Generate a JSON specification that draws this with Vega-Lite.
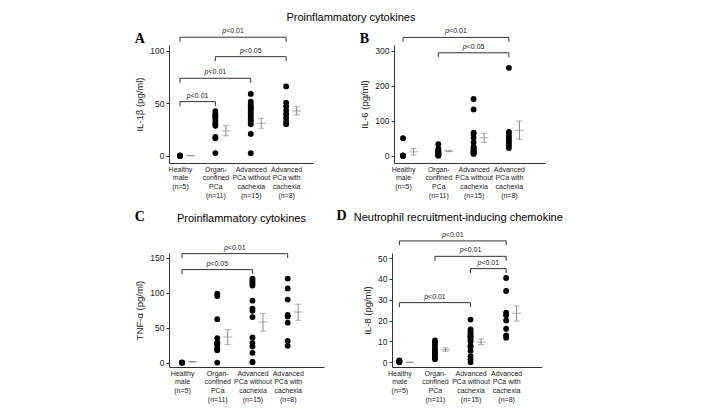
{
  "$schema": "https://vega.github.io/schema/vega-lite/v6.json",
  "background": "white",
  "padding": {"left": 134, "top": 12, "right": 5, "bottom": 5},
  "config": {
    "view": {"stroke": null},
    "font": "Liberation Sans",
    "axis": {"grid": false, "domainColor": "#333", "tickColor": "#333", "labelColor": "#222", "titleColor": "#222", "labelFont": "Liberation Sans", "titleFont": "Liberation Sans", "domainWidth": 1},
    "axisX": {"ticks": false, "labelFontSize": 7, "labelLineHeight": 8.7, "labelPadding": 2, "labelAngle": 0, "labelBaseline": "top", "labelOverlap": false, "title": null},
    "axisY": {"tickSize": 3, "labelFontSize": 8.5, "titleFontSize": 9.5, "titleFontWeight": "normal", "labelPadding": 2, "titlePadding": 5, "labelOverlap": false, "labelBaseline": "middle", "tickCount": 12},
    "title": {"font": "Liberation Sans", "fontWeight": "normal", "fontSize": 11, "color": "#000"},
    "concat": {"spacing": 12}
  },
  "datasets": {
    "pts": [
      {"panel": "A", "group": "Healthy male (n=5)", "value": 0},
      {"panel": "A", "group": "Healthy male (n=5)", "value": 0},
      {"panel": "A", "group": "Healthy male (n=5)", "value": 0},
      {"panel": "A", "group": "Healthy male (n=5)", "value": 0},
      {"panel": "A", "group": "Healthy male (n=5)", "value": 0},
      {"panel": "A", "group": "Organ-confined PCa (n=11)", "value": 42.5},
      {"panel": "A", "group": "Organ-confined PCa (n=11)", "value": 40},
      {"panel": "A", "group": "Organ-confined PCa (n=11)", "value": 38},
      {"panel": "A", "group": "Organ-confined PCa (n=11)", "value": 37},
      {"panel": "A", "group": "Organ-confined PCa (n=11)", "value": 35.5},
      {"panel": "A", "group": "Organ-confined PCa (n=11)", "value": 33},
      {"panel": "A", "group": "Organ-confined PCa (n=11)", "value": 30.5},
      {"panel": "A", "group": "Organ-confined PCa (n=11)", "value": 28.5},
      {"panel": "A", "group": "Organ-confined PCa (n=11)", "value": 18},
      {"panel": "A", "group": "Organ-confined PCa (n=11)", "value": 16.5},
      {"panel": "A", "group": "Organ-confined PCa (n=11)", "value": 2.5},
      {"panel": "A", "group": "Advanced PCa without cachexia (n=15)", "value": 58.8},
      {"panel": "A", "group": "Advanced PCa without cachexia (n=15)", "value": 51.5},
      {"panel": "A", "group": "Advanced PCa without cachexia (n=15)", "value": 49},
      {"panel": "A", "group": "Advanced PCa without cachexia (n=15)", "value": 46.7},
      {"panel": "A", "group": "Advanced PCa without cachexia (n=15)", "value": 45.5},
      {"panel": "A", "group": "Advanced PCa without cachexia (n=15)", "value": 44.5},
      {"panel": "A", "group": "Advanced PCa without cachexia (n=15)", "value": 42.6},
      {"panel": "A", "group": "Advanced PCa without cachexia (n=15)", "value": 40.3},
      {"panel": "A", "group": "Advanced PCa without cachexia (n=15)", "value": 38.1},
      {"panel": "A", "group": "Advanced PCa without cachexia (n=15)", "value": 35.6},
      {"panel": "A", "group": "Advanced PCa without cachexia (n=15)", "value": 34},
      {"panel": "A", "group": "Advanced PCa without cachexia (n=15)", "value": 32.4},
      {"panel": "A", "group": "Advanced PCa without cachexia (n=15)", "value": 29.9},
      {"panel": "A", "group": "Advanced PCa without cachexia (n=15)", "value": 20.7},
      {"panel": "A", "group": "Advanced PCa without cachexia (n=15)", "value": 2.3},
      {"panel": "A", "group": "Advanced PCa with cachexia (n=8)", "value": 66},
      {"panel": "A", "group": "Advanced PCa with cachexia (n=8)", "value": 50.5},
      {"panel": "A", "group": "Advanced PCa with cachexia (n=8)", "value": 47},
      {"panel": "A", "group": "Advanced PCa with cachexia (n=8)", "value": 43},
      {"panel": "A", "group": "Advanced PCa with cachexia (n=8)", "value": 39.5},
      {"panel": "A", "group": "Advanced PCa with cachexia (n=8)", "value": 36},
      {"panel": "A", "group": "Advanced PCa with cachexia (n=8)", "value": 32.5},
      {"panel": "A", "group": "Advanced PCa with cachexia (n=8)", "value": 30},
      {"panel": "B", "group": "Healthy male (n=5)", "value": 0},
      {"panel": "B", "group": "Healthy male (n=5)", "value": 0},
      {"panel": "B", "group": "Healthy male (n=5)", "value": 0},
      {"panel": "B", "group": "Healthy male (n=5)", "value": 0},
      {"panel": "B", "group": "Healthy male (n=5)", "value": 50},
      {"panel": "B", "group": "Organ-confined PCa (n=11)", "value": 33},
      {"panel": "B", "group": "Organ-confined PCa (n=11)", "value": 20},
      {"panel": "B", "group": "Organ-confined PCa (n=11)", "value": 15},
      {"panel": "B", "group": "Organ-confined PCa (n=11)", "value": 12},
      {"panel": "B", "group": "Organ-confined PCa (n=11)", "value": 10},
      {"panel": "B", "group": "Organ-confined PCa (n=11)", "value": 8},
      {"panel": "B", "group": "Organ-confined PCa (n=11)", "value": 6},
      {"panel": "B", "group": "Organ-confined PCa (n=11)", "value": 5},
      {"panel": "B", "group": "Organ-confined PCa (n=11)", "value": 3},
      {"panel": "B", "group": "Organ-confined PCa (n=11)", "value": 1},
      {"panel": "B", "group": "Organ-confined PCa (n=11)", "value": 0},
      {"panel": "B", "group": "Advanced PCa without cachexia (n=15)", "value": 162},
      {"panel": "B", "group": "Advanced PCa without cachexia (n=15)", "value": 132},
      {"panel": "B", "group": "Advanced PCa without cachexia (n=15)", "value": 66},
      {"panel": "B", "group": "Advanced PCa without cachexia (n=15)", "value": 62},
      {"panel": "B", "group": "Advanced PCa without cachexia (n=15)", "value": 51},
      {"panel": "B", "group": "Advanced PCa without cachexia (n=15)", "value": 38},
      {"panel": "B", "group": "Advanced PCa without cachexia (n=15)", "value": 26},
      {"panel": "B", "group": "Advanced PCa without cachexia (n=15)", "value": 22},
      {"panel": "B", "group": "Advanced PCa without cachexia (n=15)", "value": 19},
      {"panel": "B", "group": "Advanced PCa without cachexia (n=15)", "value": 16},
      {"panel": "B", "group": "Advanced PCa without cachexia (n=15)", "value": 13},
      {"panel": "B", "group": "Advanced PCa without cachexia (n=15)", "value": 11},
      {"panel": "B", "group": "Advanced PCa without cachexia (n=15)", "value": 9},
      {"panel": "B", "group": "Advanced PCa without cachexia (n=15)", "value": 7},
      {"panel": "B", "group": "Advanced PCa without cachexia (n=15)", "value": 5},
      {"panel": "B", "group": "Advanced PCa with cachexia (n=8)", "value": 251},
      {"panel": "B", "group": "Advanced PCa with cachexia (n=8)", "value": 68},
      {"panel": "B", "group": "Advanced PCa with cachexia (n=8)", "value": 60},
      {"panel": "B", "group": "Advanced PCa with cachexia (n=8)", "value": 52},
      {"panel": "B", "group": "Advanced PCa with cachexia (n=8)", "value": 45},
      {"panel": "B", "group": "Advanced PCa with cachexia (n=8)", "value": 38},
      {"panel": "B", "group": "Advanced PCa with cachexia (n=8)", "value": 30},
      {"panel": "B", "group": "Advanced PCa with cachexia (n=8)", "value": 22},
      {"panel": "C", "group": "Healthy male (n=5)", "value": 0},
      {"panel": "C", "group": "Healthy male (n=5)", "value": 0},
      {"panel": "C", "group": "Healthy male (n=5)", "value": 0},
      {"panel": "C", "group": "Healthy male (n=5)", "value": 0},
      {"panel": "C", "group": "Healthy male (n=5)", "value": 0},
      {"panel": "C", "group": "Organ-confined PCa (n=11)", "value": 98.5},
      {"panel": "C", "group": "Organ-confined PCa (n=11)", "value": 95},
      {"panel": "C", "group": "Organ-confined PCa (n=11)", "value": 62},
      {"panel": "C", "group": "Organ-confined PCa (n=11)", "value": 35},
      {"panel": "C", "group": "Organ-confined PCa (n=11)", "value": 29},
      {"panel": "C", "group": "Organ-confined PCa (n=11)", "value": 27},
      {"panel": "C", "group": "Organ-confined PCa (n=11)", "value": 25},
      {"panel": "C", "group": "Organ-confined PCa (n=11)", "value": 21},
      {"panel": "C", "group": "Organ-confined PCa (n=11)", "value": 19},
      {"panel": "C", "group": "Organ-confined PCa (n=11)", "value": 17.5},
      {"panel": "C", "group": "Organ-confined PCa (n=11)", "value": 0},
      {"panel": "C", "group": "Advanced PCa without cachexia (n=15)", "value": 120},
      {"panel": "C", "group": "Advanced PCa without cachexia (n=15)", "value": 117.5},
      {"panel": "C", "group": "Advanced PCa without cachexia (n=15)", "value": 115},
      {"panel": "C", "group": "Advanced PCa without cachexia (n=15)", "value": 113},
      {"panel": "C", "group": "Advanced PCa without cachexia (n=15)", "value": 110},
      {"panel": "C", "group": "Advanced PCa without cachexia (n=15)", "value": 88.5},
      {"panel": "C", "group": "Advanced PCa without cachexia (n=15)", "value": 77},
      {"panel": "C", "group": "Advanced PCa without cachexia (n=15)", "value": 74},
      {"panel": "C", "group": "Advanced PCa without cachexia (n=15)", "value": 65},
      {"panel": "C", "group": "Advanced PCa without cachexia (n=15)", "value": 36},
      {"panel": "C", "group": "Advanced PCa without cachexia (n=15)", "value": 28},
      {"panel": "C", "group": "Advanced PCa without cachexia (n=15)", "value": 23},
      {"panel": "C", "group": "Advanced PCa without cachexia (n=15)", "value": 14},
      {"panel": "C", "group": "Advanced PCa without cachexia (n=15)", "value": 1},
      {"panel": "C", "group": "Advanced PCa without cachexia (n=15)", "value": 0.5},
      {"panel": "C", "group": "Advanced PCa with cachexia (n=8)", "value": 120},
      {"panel": "C", "group": "Advanced PCa with cachexia (n=8)", "value": 106},
      {"panel": "C", "group": "Advanced PCa with cachexia (n=8)", "value": 90},
      {"panel": "C", "group": "Advanced PCa with cachexia (n=8)", "value": 68},
      {"panel": "C", "group": "Advanced PCa with cachexia (n=8)", "value": 66},
      {"panel": "C", "group": "Advanced PCa with cachexia (n=8)", "value": 57},
      {"panel": "C", "group": "Advanced PCa with cachexia (n=8)", "value": 31},
      {"panel": "C", "group": "Advanced PCa with cachexia (n=8)", "value": 24},
      {"panel": "D", "group": "Healthy male (n=5)", "value": 0},
      {"panel": "D", "group": "Healthy male (n=5)", "value": 0.3},
      {"panel": "D", "group": "Healthy male (n=5)", "value": 0.6},
      {"panel": "D", "group": "Healthy male (n=5)", "value": 0.9},
      {"panel": "D", "group": "Healthy male (n=5)", "value": 0.2},
      {"panel": "D", "group": "Organ-confined PCa (n=11)", "value": 10.5},
      {"panel": "D", "group": "Organ-confined PCa (n=11)", "value": 9.5},
      {"panel": "D", "group": "Organ-confined PCa (n=11)", "value": 8.5},
      {"panel": "D", "group": "Organ-confined PCa (n=11)", "value": 7},
      {"panel": "D", "group": "Organ-confined PCa (n=11)", "value": 6},
      {"panel": "D", "group": "Organ-confined PCa (n=11)", "value": 5},
      {"panel": "D", "group": "Organ-confined PCa (n=11)", "value": 4.5},
      {"panel": "D", "group": "Organ-confined PCa (n=11)", "value": 4},
      {"panel": "D", "group": "Organ-confined PCa (n=11)", "value": 3},
      {"panel": "D", "group": "Organ-confined PCa (n=11)", "value": 2},
      {"panel": "D", "group": "Organ-confined PCa (n=11)", "value": 1.5},
      {"panel": "D", "group": "Advanced PCa without cachexia (n=15)", "value": 20.5},
      {"panel": "D", "group": "Advanced PCa without cachexia (n=15)", "value": 15.8},
      {"panel": "D", "group": "Advanced PCa without cachexia (n=15)", "value": 14.8},
      {"panel": "D", "group": "Advanced PCa without cachexia (n=15)", "value": 14},
      {"panel": "D", "group": "Advanced PCa without cachexia (n=15)", "value": 13},
      {"panel": "D", "group": "Advanced PCa without cachexia (n=15)", "value": 12.5},
      {"panel": "D", "group": "Advanced PCa without cachexia (n=15)", "value": 12},
      {"panel": "D", "group": "Advanced PCa without cachexia (n=15)", "value": 11},
      {"panel": "D", "group": "Advanced PCa without cachexia (n=15)", "value": 10},
      {"panel": "D", "group": "Advanced PCa without cachexia (n=15)", "value": 8},
      {"panel": "D", "group": "Advanced PCa without cachexia (n=15)", "value": 7.5},
      {"panel": "D", "group": "Advanced PCa without cachexia (n=15)", "value": 5.5},
      {"panel": "D", "group": "Advanced PCa without cachexia (n=15)", "value": 3},
      {"panel": "D", "group": "Advanced PCa without cachexia (n=15)", "value": 1.5},
      {"panel": "D", "group": "Advanced PCa without cachexia (n=15)", "value": 0},
      {"panel": "D", "group": "Advanced PCa with cachexia (n=8)", "value": 40.4},
      {"panel": "D", "group": "Advanced PCa with cachexia (n=8)", "value": 34.2},
      {"panel": "D", "group": "Advanced PCa with cachexia (n=8)", "value": 23.8},
      {"panel": "D", "group": "Advanced PCa with cachexia (n=8)", "value": 22.5},
      {"panel": "D", "group": "Advanced PCa with cachexia (n=8)", "value": 20.1},
      {"panel": "D", "group": "Advanced PCa with cachexia (n=8)", "value": 16.1},
      {"panel": "D", "group": "Advanced PCa with cachexia (n=8)", "value": 12.9},
      {"panel": "D", "group": "Advanced PCa with cachexia (n=8)", "value": 11.8}
    ],
    "sem": [
      {"panel": "A", "group": "Healthy male (n=5)", "mean": 0, "lo": 0, "hi": 0},
      {"panel": "A", "group": "Organ-confined PCa (n=11)", "mean": 23.5, "lo": 19, "hi": 28.6},
      {"panel": "A", "group": "Advanced PCa without cachexia (n=15)", "mean": 30.8, "lo": 26.1, "hi": 35.6},
      {"panel": "A", "group": "Advanced PCa with cachexia (n=8)", "mean": 42.6, "lo": 38.8, "hi": 46.7},
      {"panel": "B", "group": "Healthy male (n=5)", "mean": 11, "lo": 2, "hi": 20},
      {"panel": "B", "group": "Organ-confined PCa (n=11)", "mean": 13.3, "lo": 11.4, "hi": 15.2},
      {"panel": "B", "group": "Advanced PCa without cachexia (n=15)", "mean": 51.5, "lo": 38, "hi": 64},
      {"panel": "B", "group": "Advanced PCa with cachexia (n=8)", "mean": 73, "lo": 47, "hi": 99},
      {"panel": "C", "group": "Healthy male (n=5)", "mean": 1, "lo": 1, "hi": 1},
      {"panel": "C", "group": "Organ-confined PCa (n=11)", "mean": 36.6, "lo": 25.7, "hi": 47},
      {"panel": "C", "group": "Advanced PCa without cachexia (n=15)", "mean": 58, "lo": 45, "hi": 70},
      {"panel": "C", "group": "Advanced PCa with cachexia (n=8)", "mean": 72.4, "lo": 60.4, "hi": 83.3},
      {"panel": "D", "group": "Healthy male (n=5)", "mean": 0, "lo": 0, "hi": 0},
      {"panel": "D", "group": "Organ-confined PCa (n=11)", "mean": 6.1, "lo": 5.3, "hi": 7},
      {"panel": "D", "group": "Advanced PCa without cachexia (n=15)", "mean": 9.7, "lo": 8.5, "hi": 11.2},
      {"panel": "D", "group": "Advanced PCa with cachexia (n=8)", "mean": 23.5, "lo": 19.8, "hi": 27}
    ],
    "brk": [
      {"panel": "A", "g1": "Healthy male (n=5)", "g2": "Advanced PCa with cachexia (n=8)", "level": 112.8, "label": "<0.01"},
      {"panel": "A", "g1": "Organ-confined PCa (n=11)", "g2": "Advanced PCa with cachexia (n=8)", "level": 94.3, "label": "<0.05"},
      {"panel": "A", "g1": "Healthy male (n=5)", "g2": "Advanced PCa without cachexia (n=15)", "level": 73.7, "label": "<0.01"},
      {"panel": "A", "g1": "Healthy male (n=5)", "g2": "Organ-confined PCa (n=11)", "level": 51.5, "label": "<0.01"},
      {"panel": "B", "g1": "Healthy male (n=5)", "g2": "Advanced PCa with cachexia (n=8)", "level": 338, "label": "<0.01"},
      {"panel": "B", "g1": "Organ-confined PCa (n=11)", "g2": "Advanced PCa with cachexia (n=8)", "level": 294, "label": "<0.05"},
      {"panel": "C", "g1": "Healthy male (n=5)", "g2": "Advanced PCa with cachexia (n=8)", "level": 155.7, "label": "<0.01"},
      {"panel": "C", "g1": "Healthy male (n=5)", "g2": "Advanced PCa without cachexia (n=15)", "level": 132.9, "label": "<0.05"},
      {"panel": "D", "g1": "Healthy male (n=5)", "g2": "Advanced PCa with cachexia (n=8)", "level": 58.2, "label": "<0.01"},
      {"panel": "D", "g1": "Organ-confined PCa (n=11)", "g2": "Advanced PCa with cachexia (n=8)", "level": 50.8, "label": "<0.01"},
      {"panel": "D", "g1": "Advanced PCa without cachexia (n=15)", "g2": "Advanced PCa with cachexia (n=8)", "level": 44.9, "label": "<0.01"},
      {"panel": "D", "g1": "Healthy male (n=5)", "g2": "Advanced PCa without cachexia (n=15)", "level": 28.6, "label": "<0.01"}
    ]
  },
  "vconcat": [
    {
      "title": {"text": "Proinflammatory cytokines", "anchor": "middle", "frame": "bounds", "offset": 4, "dx": 11},
      "spacing": 46,
      "hconcat": [
        {
          "title": {"text": "A", "anchor": "start", "frame": "bounds", "font": "Liberation Serif", "fontSize": 14, "fontWeight": "bold", "offset": -19},
          "width": 144, "height": 118,
          "layer": [
            {"data": {"name": "pts"}, "transform": [{"filter": "datum.panel === 'A'"}],
             "mark": {"type": "circle", "size": 34, "color": "#000", "opacity": 1},
             "encoding": {
               "x": {"field": "group", "type": "nominal", "scale": {"type": "point", "domain": ["Healthy male (n=5)", "Organ-confined PCa (n=11)", "Advanced PCa without cachexia (n=15)", "Advanced PCa with cachexia (n=8)"], "padding": 0.534, "align": 0.29},
                     "axis": {"title": null, "labelExpr": "datum.value === 'Healthy male (n=5)' ? ['Healthy','male','(n=5)'] : datum.value === 'Organ-confined PCa (n=11)' ? ['Organ-','confined','PCa','(n=11)'] : datum.value === 'Advanced PCa without cachexia (n=15)' ? ['Advanced','PCa without','cachexia','(n=15)'] : ['Advanced','PCa with','cachexia','(n=8)']"}},
               "y": {"field": "value", "type": "quantitative", "scale": {"domain": [-6.95, 105.4], "nice": false, "zero": false}, "axis": {"values": [0, 50, 100], "tickCount": 12, "title": "IL-1β (pg/ml)"}}
             }},
            {"data": {"name": "sem"}, "transform": [{"filter": "datum.panel === 'A'"}],
             "mark": {"type": "rule", "color": "#8a8a8a", "strokeWidth": 1, "xOffset": 10.5},
             "encoding": {"x": {"field": "group", "type": "nominal"}, "y": {"field": "lo", "type": "quantitative"}, "y2": {"field": "hi"}}},
            {"data": {"name": "sem"}, "transform": [{"filter": "datum.panel === 'A'"}],
             "mark": {"type": "tick", "color": "#8a8a8a", "size": 6, "thickness": 1, "xOffset": 10.5},
             "encoding": {"x": {"field": "group", "type": "nominal"}, "y": {"field": "lo", "type": "quantitative"}}},
            {"data": {"name": "sem"}, "transform": [{"filter": "datum.panel === 'A'"}],
             "mark": {"type": "tick", "color": "#8a8a8a", "size": 6, "thickness": 1, "xOffset": 10.5},
             "encoding": {"x": {"field": "group", "type": "nominal"}, "y": {"field": "hi", "type": "quantitative"}}},
            {"data": {"name": "sem"}, "transform": [{"filter": "datum.panel === 'A'"}],
             "mark": {"type": "tick", "color": "#8a8a8a", "size": 9, "thickness": 1, "xOffset": 10.5},
             "encoding": {"x": {"field": "group", "type": "nominal"}, "y": {"field": "mean", "type": "quantitative"}}},
            {"data": {"name": "brk"}, "transform": [{"filter": "datum.panel === 'A'"}],
             "mark": {"type": "rule", "color": "#333", "strokeWidth": 1},
             "encoding": {"x": {"field": "g1", "type": "nominal"}, "x2": {"field": "g2"}, "y": {"field": "level", "type": "quantitative"}}},
            {"data": {"name": "brk"}, "transform": [{"filter": "datum.panel === 'A'"}],
             "mark": {"type": "rule", "color": "#333", "strokeWidth": 1, "y2Offset": 4.5},
             "encoding": {"x": {"field": "g1", "type": "nominal"}, "y": {"field": "level", "type": "quantitative"}, "y2": {"field": "level"}}},
            {"data": {"name": "brk"}, "transform": [{"filter": "datum.panel === 'A'"}],
             "mark": {"type": "rule", "color": "#333", "strokeWidth": 1, "y2Offset": 4.5},
             "encoding": {"x": {"field": "g2", "type": "nominal"}, "y": {"field": "level", "type": "quantitative"}, "y2": {"field": "level"}}},
            {"data": {"name": "brk"}, "transform": [{"filter": "datum.panel === 'A' && indexof(['Healthy male (n=5)','Organ-confined PCa (n=11)','Advanced PCa without cachexia (n=15)','Advanced PCa with cachexia (n=8)'], datum.g2) - indexof(['Healthy male (n=5)','Organ-confined PCa (n=11)','Advanced PCa without cachexia (n=15)','Advanced PCa with cachexia (n=8)'], datum.g1) === 1"}],
             "mark": {"type": "text", "text": "p", "fontStyle": "italic", "fontSize": 7, "align": "right", "baseline": "middle", "dx": 10.8, "dy": -6, "color": "#222"},
             "encoding": {"x": {"field": "g1", "type": "nominal"}, "y": {"field": "level", "type": "quantitative"}}},
            {"data": {"name": "brk"}, "transform": [{"filter": "datum.panel === 'A' && indexof(['Healthy male (n=5)','Organ-confined PCa (n=11)','Advanced PCa without cachexia (n=15)','Advanced PCa with cachexia (n=8)'], datum.g2) - indexof(['Healthy male (n=5)','Organ-confined PCa (n=11)','Advanced PCa without cachexia (n=15)','Advanced PCa with cachexia (n=8)'], datum.g1) === 1"}],
             "mark": {"type": "text", "fontSize": 7, "align": "left", "baseline": "middle", "dx": 10.8, "dy": -6, "color": "#222"},
             "encoding": {"x": {"field": "g1", "type": "nominal"}, "y": {"field": "level", "type": "quantitative"}, "text": {"field": "label"}}},
            {"data": {"name": "brk"}, "transform": [{"filter": "datum.panel === 'A' && indexof(['Healthy male (n=5)','Organ-confined PCa (n=11)','Advanced PCa without cachexia (n=15)','Advanced PCa with cachexia (n=8)'], datum.g2) - indexof(['Healthy male (n=5)','Organ-confined PCa (n=11)','Advanced PCa without cachexia (n=15)','Advanced PCa with cachexia (n=8)'], datum.g1) === 2"}],
             "mark": {"type": "text", "text": "p", "fontStyle": "italic", "fontSize": 7, "align": "right", "baseline": "middle", "dx": 28.5, "dy": -6, "color": "#222"},
             "encoding": {"x": {"field": "g1", "type": "nominal"}, "y": {"field": "level", "type": "quantitative"}}},
            {"data": {"name": "brk"}, "transform": [{"filter": "datum.panel === 'A' && indexof(['Healthy male (n=5)','Organ-confined PCa (n=11)','Advanced PCa without cachexia (n=15)','Advanced PCa with cachexia (n=8)'], datum.g2) - indexof(['Healthy male (n=5)','Organ-confined PCa (n=11)','Advanced PCa without cachexia (n=15)','Advanced PCa with cachexia (n=8)'], datum.g1) === 2"}],
             "mark": {"type": "text", "fontSize": 7, "align": "left", "baseline": "middle", "dx": 28.5, "dy": -6, "color": "#222"},
             "encoding": {"x": {"field": "g1", "type": "nominal"}, "y": {"field": "level", "type": "quantitative"}, "text": {"field": "label"}}},
            {"data": {"name": "brk"}, "transform": [{"filter": "datum.panel === 'A' && indexof(['Healthy male (n=5)','Organ-confined PCa (n=11)','Advanced PCa without cachexia (n=15)','Advanced PCa with cachexia (n=8)'], datum.g2) - indexof(['Healthy male (n=5)','Organ-confined PCa (n=11)','Advanced PCa without cachexia (n=15)','Advanced PCa with cachexia (n=8)'], datum.g1) === 3"}],
             "mark": {"type": "text", "text": "p", "fontStyle": "italic", "fontSize": 7, "align": "right", "baseline": "middle", "dx": 46.2, "dy": -6, "color": "#222"},
             "encoding": {"x": {"field": "g1", "type": "nominal"}, "y": {"field": "level", "type": "quantitative"}}},
            {"data": {"name": "brk"}, "transform": [{"filter": "datum.panel === 'A' && indexof(['Healthy male (n=5)','Organ-confined PCa (n=11)','Advanced PCa without cachexia (n=15)','Advanced PCa with cachexia (n=8)'], datum.g2) - indexof(['Healthy male (n=5)','Organ-confined PCa (n=11)','Advanced PCa without cachexia (n=15)','Advanced PCa with cachexia (n=8)'], datum.g1) === 3"}],
             "mark": {"type": "text", "fontSize": 7, "align": "left", "baseline": "middle", "dx": 46.2, "dy": -6, "color": "#222"},
             "encoding": {"x": {"field": "g1", "type": "nominal"}, "y": {"field": "level", "type": "quantitative"}, "text": {"field": "label"}}}
          ]
        },
        {
          "title": {"text": "B", "anchor": "start", "frame": "bounds", "font": "Liberation Serif", "fontSize": 14, "fontWeight": "bold", "offset": -19},
          "width": 151, "height": 118,
          "layer": [
            {"data": {"name": "pts"}, "transform": [{"filter": "datum.panel === 'B'"}],
             "mark": {"type": "circle", "size": 34, "color": "#000", "opacity": 1},
             "encoding": {
               "x": {"field": "group", "type": "nominal", "scale": {"type": "point", "domain": ["Healthy male (n=5)", "Organ-confined PCa (n=11)", "Advanced PCa without cachexia (n=15)", "Advanced PCa with cachexia (n=8)"], "padding": 0.639, "align": 0.2},
                     "axis": {"title": null, "labelExpr": "datum.value === 'Healthy male (n=5)' ? ['Healthy','male','(n=5)'] : datum.value === 'Organ-confined PCa (n=11)' ? ['Organ-','confined','PCa','(n=11)'] : datum.value === 'Advanced PCa without cachexia (n=15)' ? ['Advanced','PCa without','cachexia','(n=15)'] : ['Advanced','PCa with','cachexia','(n=8)']"}},
               "y": {"field": "value", "type": "quantitative", "scale": {"domain": [-20.9, 316.3], "nice": false, "zero": false}, "axis": {"values": [0, 100, 200, 300], "tickCount": 12, "title": "IL-6 (pg/ml)"}}
             }},
            {"data": {"name": "sem"}, "transform": [{"filter": "datum.panel === 'B'"}],
             "mark": {"type": "rule", "color": "#8a8a8a", "strokeWidth": 1, "xOffset": 10.5},
             "encoding": {"x": {"field": "group", "type": "nominal"}, "y": {"field": "lo", "type": "quantitative"}, "y2": {"field": "hi"}}},
            {"data": {"name": "sem"}, "transform": [{"filter": "datum.panel === 'B'"}],
             "mark": {"type": "tick", "color": "#8a8a8a", "size": 6, "thickness": 1, "xOffset": 10.5},
             "encoding": {"x": {"field": "group", "type": "nominal"}, "y": {"field": "lo", "type": "quantitative"}}},
            {"data": {"name": "sem"}, "transform": [{"filter": "datum.panel === 'B'"}],
             "mark": {"type": "tick", "color": "#8a8a8a", "size": 6, "thickness": 1, "xOffset": 10.5},
             "encoding": {"x": {"field": "group", "type": "nominal"}, "y": {"field": "hi", "type": "quantitative"}}},
            {"data": {"name": "sem"}, "transform": [{"filter": "datum.panel === 'B'"}],
             "mark": {"type": "tick", "color": "#8a8a8a", "size": 9, "thickness": 1, "xOffset": 10.5},
             "encoding": {"x": {"field": "group", "type": "nominal"}, "y": {"field": "mean", "type": "quantitative"}}},
            {"data": {"name": "brk"}, "transform": [{"filter": "datum.panel === 'B'"}],
             "mark": {"type": "rule", "color": "#333", "strokeWidth": 1},
             "encoding": {"x": {"field": "g1", "type": "nominal"}, "x2": {"field": "g2"}, "y": {"field": "level", "type": "quantitative"}}},
            {"data": {"name": "brk"}, "transform": [{"filter": "datum.panel === 'B'"}],
             "mark": {"type": "rule", "color": "#333", "strokeWidth": 1, "y2Offset": 4.5},
             "encoding": {"x": {"field": "g1", "type": "nominal"}, "y": {"field": "level", "type": "quantitative"}, "y2": {"field": "level"}}},
            {"data": {"name": "brk"}, "transform": [{"filter": "datum.panel === 'B'"}],
             "mark": {"type": "rule", "color": "#333", "strokeWidth": 1, "y2Offset": 4.5},
             "encoding": {"x": {"field": "g2", "type": "nominal"}, "y": {"field": "level", "type": "quantitative"}, "y2": {"field": "level"}}},
            {"data": {"name": "brk"}, "transform": [{"filter": "datum.panel === 'B' && indexof(['Healthy male (n=5)','Organ-confined PCa (n=11)','Advanced PCa without cachexia (n=15)','Advanced PCa with cachexia (n=8)'], datum.g2) - indexof(['Healthy male (n=5)','Organ-confined PCa (n=11)','Advanced PCa without cachexia (n=15)','Advanced PCa with cachexia (n=8)'], datum.g1) === 2"}],
             "mark": {"type": "text", "text": "p", "fontStyle": "italic", "fontSize": 7, "align": "right", "baseline": "middle", "dx": 28.4, "dy": -6, "color": "#222"},
             "encoding": {"x": {"field": "g1", "type": "nominal"}, "y": {"field": "level", "type": "quantitative"}}},
            {"data": {"name": "brk"}, "transform": [{"filter": "datum.panel === 'B' && indexof(['Healthy male (n=5)','Organ-confined PCa (n=11)','Advanced PCa without cachexia (n=15)','Advanced PCa with cachexia (n=8)'], datum.g2) - indexof(['Healthy male (n=5)','Organ-confined PCa (n=11)','Advanced PCa without cachexia (n=15)','Advanced PCa with cachexia (n=8)'], datum.g1) === 2"}],
             "mark": {"type": "text", "fontSize": 7, "align": "left", "baseline": "middle", "dx": 28.4, "dy": -6, "color": "#222"},
             "encoding": {"x": {"field": "g1", "type": "nominal"}, "y": {"field": "level", "type": "quantitative"}, "text": {"field": "label"}}},
            {"data": {"name": "brk"}, "transform": [{"filter": "datum.panel === 'B' && indexof(['Healthy male (n=5)','Organ-confined PCa (n=11)','Advanced PCa without cachexia (n=15)','Advanced PCa with cachexia (n=8)'], datum.g2) - indexof(['Healthy male (n=5)','Organ-confined PCa (n=11)','Advanced PCa without cachexia (n=15)','Advanced PCa with cachexia (n=8)'], datum.g1) === 3"}],
             "mark": {"type": "text", "text": "p", "fontStyle": "italic", "fontSize": 7, "align": "right", "baseline": "middle", "dx": 46.1, "dy": -6, "color": "#222"},
             "encoding": {"x": {"field": "g1", "type": "nominal"}, "y": {"field": "level", "type": "quantitative"}}},
            {"data": {"name": "brk"}, "transform": [{"filter": "datum.panel === 'B' && indexof(['Healthy male (n=5)','Organ-confined PCa (n=11)','Advanced PCa without cachexia (n=15)','Advanced PCa with cachexia (n=8)'], datum.g2) - indexof(['Healthy male (n=5)','Organ-confined PCa (n=11)','Advanced PCa without cachexia (n=15)','Advanced PCa with cachexia (n=8)'], datum.g1) === 3"}],
             "mark": {"type": "text", "fontSize": 7, "align": "left", "baseline": "middle", "dx": 46.1, "dy": -6, "color": "#222"},
             "encoding": {"x": {"field": "g1", "type": "nominal"}, "y": {"field": "level", "type": "quantitative"}, "text": {"field": "label"}}}
          ]
        }
      ]
    },
    {
      "spacing": 12,
      "hconcat": [
        {
          "title": {"text": "Proinflammatory cytokines", "anchor": "middle", "frame": "bounds", "offset": -14, "dx": 12},
          "vconcat": [
            {
              "title": {"text": "C", "anchor": "start", "frame": "bounds", "font": "Liberation Serif", "fontSize": 14, "fontWeight": "bold", "offset": 20},
              "width": 155, "height": 114,
              "layer": [
                {"data": {"name": "pts"}, "transform": [{"filter": "datum.panel === 'C'"}],
                 "mark": {"type": "circle", "size": 34, "color": "#000", "opacity": 1},
                 "encoding": {
                   "x": {"field": "group", "type": "nominal", "scale": {"type": "point", "domain": ["Healthy male (n=5)", "Organ-confined PCa (n=11)", "Advanced PCa without cachexia (n=15)", "Advanced PCa with cachexia (n=8)"], "padding": 0.70, "align": 0.264},
                         "axis": {"title": null, "labelExpr": "datum.value === 'Healthy male (n=5)' ? ['Healthy','male','(n=5)'] : datum.value === 'Organ-confined PCa (n=11)' ? ['Organ-','confined','PCa','(n=11)'] : datum.value === 'Advanced PCa without cachexia (n=15)' ? ['Advanced','PCa without','cachexia','(n=15)'] : ['Advanced','PCa with','cachexia','(n=8)']"}},
                   "y": {"field": "value", "type": "quantitative", "scale": {"domain": [-6.3, 156.6], "nice": false, "zero": false}, "axis": {"values": [0, 50, 100, 150], "tickCount": 12, "title": "TNF-α (pg/ml)"}}
                 }},
                {"data": {"name": "sem"}, "transform": [{"filter": "datum.panel === 'C'"}],
                 "mark": {"type": "rule", "color": "#8a8a8a", "strokeWidth": 1, "xOffset": 10.5},
                 "encoding": {"x": {"field": "group", "type": "nominal"}, "y": {"field": "lo", "type": "quantitative"}, "y2": {"field": "hi"}}},
                {"data": {"name": "sem"}, "transform": [{"filter": "datum.panel === 'C'"}],
                 "mark": {"type": "tick", "color": "#8a8a8a", "size": 6, "thickness": 1, "xOffset": 10.5},
                 "encoding": {"x": {"field": "group", "type": "nominal"}, "y": {"field": "lo", "type": "quantitative"}}},
                {"data": {"name": "sem"}, "transform": [{"filter": "datum.panel === 'C'"}],
                 "mark": {"type": "tick", "color": "#8a8a8a", "size": 6, "thickness": 1, "xOffset": 10.5},
                 "encoding": {"x": {"field": "group", "type": "nominal"}, "y": {"field": "hi", "type": "quantitative"}}},
                {"data": {"name": "sem"}, "transform": [{"filter": "datum.panel === 'C'"}],
                 "mark": {"type": "tick", "color": "#8a8a8a", "size": 9, "thickness": 1, "xOffset": 10.5},
                 "encoding": {"x": {"field": "group", "type": "nominal"}, "y": {"field": "mean", "type": "quantitative"}}},
                {"data": {"name": "brk"}, "transform": [{"filter": "datum.panel === 'C'"}],
                 "mark": {"type": "rule", "color": "#333", "strokeWidth": 1},
                 "encoding": {"x": {"field": "g1", "type": "nominal"}, "x2": {"field": "g2"}, "y": {"field": "level", "type": "quantitative"}}},
                {"data": {"name": "brk"}, "transform": [{"filter": "datum.panel === 'C'"}],
                 "mark": {"type": "rule", "color": "#333", "strokeWidth": 1, "y2Offset": 4.5},
                 "encoding": {"x": {"field": "g1", "type": "nominal"}, "y": {"field": "level", "type": "quantitative"}, "y2": {"field": "level"}}},
                {"data": {"name": "brk"}, "transform": [{"filter": "datum.panel === 'C'"}],
                 "mark": {"type": "rule", "color": "#333", "strokeWidth": 1, "y2Offset": 4.5},
                 "encoding": {"x": {"field": "g2", "type": "nominal"}, "y": {"field": "level", "type": "quantitative"}, "y2": {"field": "level"}}},
                {"data": {"name": "brk"}, "transform": [{"filter": "datum.panel === 'C' && indexof(['Healthy male (n=5)','Organ-confined PCa (n=11)','Advanced PCa without cachexia (n=15)','Advanced PCa with cachexia (n=8)'], datum.g2) - indexof(['Healthy male (n=5)','Organ-confined PCa (n=11)','Advanced PCa without cachexia (n=15)','Advanced PCa with cachexia (n=8)'], datum.g1) === 2"}],
                 "mark": {"type": "text", "text": "p", "fontStyle": "italic", "fontSize": 7, "align": "right", "baseline": "middle", "dx": 28.3, "dy": -6, "color": "#222"},
                 "encoding": {"x": {"field": "g1", "type": "nominal"}, "y": {"field": "level", "type": "quantitative"}}},
                {"data": {"name": "brk"}, "transform": [{"filter": "datum.panel === 'C' && indexof(['Healthy male (n=5)','Organ-confined PCa (n=11)','Advanced PCa without cachexia (n=15)','Advanced PCa with cachexia (n=8)'], datum.g2) - indexof(['Healthy male (n=5)','Organ-confined PCa (n=11)','Advanced PCa without cachexia (n=15)','Advanced PCa with cachexia (n=8)'], datum.g1) === 2"}],
                 "mark": {"type": "text", "fontSize": 7, "align": "left", "baseline": "middle", "dx": 28.3, "dy": -6, "color": "#222"},
                 "encoding": {"x": {"field": "g1", "type": "nominal"}, "y": {"field": "level", "type": "quantitative"}, "text": {"field": "label"}}},
                {"data": {"name": "brk"}, "transform": [{"filter": "datum.panel === 'C' && indexof(['Healthy male (n=5)','Organ-confined PCa (n=11)','Advanced PCa without cachexia (n=15)','Advanced PCa with cachexia (n=8)'], datum.g2) - indexof(['Healthy male (n=5)','Organ-confined PCa (n=11)','Advanced PCa without cachexia (n=15)','Advanced PCa with cachexia (n=8)'], datum.g1) === 3"}],
                 "mark": {"type": "text", "text": "p", "fontStyle": "italic", "fontSize": 7, "align": "right", "baseline": "middle", "dx": 45.9, "dy": -6, "color": "#222"},
                 "encoding": {"x": {"field": "g1", "type": "nominal"}, "y": {"field": "level", "type": "quantitative"}}},
                {"data": {"name": "brk"}, "transform": [{"filter": "datum.panel === 'C' && indexof(['Healthy male (n=5)','Organ-confined PCa (n=11)','Advanced PCa without cachexia (n=15)','Advanced PCa with cachexia (n=8)'], datum.g2) - indexof(['Healthy male (n=5)','Organ-confined PCa (n=11)','Advanced PCa without cachexia (n=15)','Advanced PCa with cachexia (n=8)'], datum.g1) === 3"}],
                 "mark": {"type": "text", "fontSize": 7, "align": "left", "baseline": "middle", "dx": 45.9, "dy": -6, "color": "#222"},
                 "encoding": {"x": {"field": "g1", "type": "nominal"}, "y": {"field": "level", "type": "quantitative"}, "text": {"field": "label"}}}
              ]
            }
          ]
        },
        {
          "title": {"text": "Neutrophil recruitment-inducing chemokine", "anchor": "middle", "frame": "bounds", "offset": -14, "dx": 19},
          "vconcat": [
            {
              "title": {"text": "D", "anchor": "start", "frame": "bounds", "font": "Liberation Serif", "fontSize": 14, "fontWeight": "bold", "offset": 8, "dx": -26},
              "width": 150, "height": 114,
              "layer": [
                {"data": {"name": "pts"}, "transform": [{"filter": "datum.panel === 'D'"}],
                 "mark": {"type": "circle", "size": 34, "color": "#000", "opacity": 1},
                 "encoding": {
                   "x": {"field": "group", "type": "nominal", "scale": {"type": "point", "domain": ["Healthy male (n=5)", "Organ-confined PCa (n=11)", "Advanced PCa without cachexia (n=15)", "Advanced PCa with cachexia (n=8)"], "padding": 0.607, "align": 0.17},
                         "axis": {"title": null, "labelExpr": "datum.value === 'Healthy male (n=5)' ? ['Healthy','male','(n=5)'] : datum.value === 'Organ-confined PCa (n=11)' ? ['Organ-','confined','PCa','(n=11)'] : datum.value === 'Advanced PCa without cachexia (n=15)' ? ['Advanced','PCa without','cachexia','(n=15)'] : ['Advanced','PCa with','cachexia','(n=8)']"}},
                   "y": {"field": "value", "type": "quantitative", "scale": {"domain": [-2.25, 52.4], "nice": false, "zero": false}, "axis": {"values": [0, 10, 20, 30, 40, 50], "tickCount": 12, "title": "IL-8 (pg/ml)"}}
                 }},
                {"data": {"name": "sem"}, "transform": [{"filter": "datum.panel === 'D'"}],
                 "mark": {"type": "rule", "color": "#8a8a8a", "strokeWidth": 1, "xOffset": 10.5},
                 "encoding": {"x": {"field": "group", "type": "nominal"}, "y": {"field": "lo", "type": "quantitative"}, "y2": {"field": "hi"}}},
                {"data": {"name": "sem"}, "transform": [{"filter": "datum.panel === 'D'"}],
                 "mark": {"type": "tick", "color": "#8a8a8a", "size": 6, "thickness": 1, "xOffset": 10.5},
                 "encoding": {"x": {"field": "group", "type": "nominal"}, "y": {"field": "lo", "type": "quantitative"}}},
                {"data": {"name": "sem"}, "transform": [{"filter": "datum.panel === 'D'"}],
                 "mark": {"type": "tick", "color": "#8a8a8a", "size": 6, "thickness": 1, "xOffset": 10.5},
                 "encoding": {"x": {"field": "group", "type": "nominal"}, "y": {"field": "hi", "type": "quantitative"}}},
                {"data": {"name": "sem"}, "transform": [{"filter": "datum.panel === 'D'"}],
                 "mark": {"type": "tick", "color": "#8a8a8a", "size": 9, "thickness": 1, "xOffset": 10.5},
                 "encoding": {"x": {"field": "group", "type": "nominal"}, "y": {"field": "mean", "type": "quantitative"}}},
                {"data": {"name": "brk"}, "transform": [{"filter": "datum.panel === 'D'"}],
                 "mark": {"type": "rule", "color": "#333", "strokeWidth": 1},
                 "encoding": {"x": {"field": "g1", "type": "nominal"}, "x2": {"field": "g2"}, "y": {"field": "level", "type": "quantitative"}}},
                {"data": {"name": "brk"}, "transform": [{"filter": "datum.panel === 'D'"}],
                 "mark": {"type": "rule", "color": "#333", "strokeWidth": 1, "y2Offset": 4.5},
                 "encoding": {"x": {"field": "g1", "type": "nominal"}, "y": {"field": "level", "type": "quantitative"}, "y2": {"field": "level"}}},
                {"data": {"name": "brk"}, "transform": [{"filter": "datum.panel === 'D'"}],
                 "mark": {"type": "rule", "color": "#333", "strokeWidth": 1, "y2Offset": 4.5},
                 "encoding": {"x": {"field": "g2", "type": "nominal"}, "y": {"field": "level", "type": "quantitative"}, "y2": {"field": "level"}}},
                {"data": {"name": "brk"}, "transform": [{"filter": "datum.panel === 'D' && indexof(['Healthy male (n=5)','Organ-confined PCa (n=11)','Advanced PCa without cachexia (n=15)','Advanced PCa with cachexia (n=8)'], datum.g2) - indexof(['Healthy male (n=5)','Organ-confined PCa (n=11)','Advanced PCa without cachexia (n=15)','Advanced PCa with cachexia (n=8)'], datum.g1) === 1"}],
                 "mark": {"type": "text", "text": "p", "fontStyle": "italic", "fontSize": 7, "align": "right", "baseline": "middle", "dx": 10.9, "dy": -6, "color": "#222"},
                 "encoding": {"x": {"field": "g1", "type": "nominal"}, "y": {"field": "level", "type": "quantitative"}}},
                {"data": {"name": "brk"}, "transform": [{"filter": "datum.panel === 'D' && indexof(['Healthy male (n=5)','Organ-confined PCa (n=11)','Advanced PCa without cachexia (n=15)','Advanced PCa with cachexia (n=8)'], datum.g2) - indexof(['Healthy male (n=5)','Organ-confined PCa (n=11)','Advanced PCa without cachexia (n=15)','Advanced PCa with cachexia (n=8)'], datum.g1) === 1"}],
                 "mark": {"type": "text", "fontSize": 7, "align": "left", "baseline": "middle", "dx": 10.9, "dy": -6, "color": "#222"},
                 "encoding": {"x": {"field": "g1", "type": "nominal"}, "y": {"field": "level", "type": "quantitative"}, "text": {"field": "label"}}},
                {"data": {"name": "brk"}, "transform": [{"filter": "datum.panel === 'D' && indexof(['Healthy male (n=5)','Organ-confined PCa (n=11)','Advanced PCa without cachexia (n=15)','Advanced PCa with cachexia (n=8)'], datum.g2) - indexof(['Healthy male (n=5)','Organ-confined PCa (n=11)','Advanced PCa without cachexia (n=15)','Advanced PCa with cachexia (n=8)'], datum.g1) === 2"}],
                 "mark": {"type": "text", "text": "p", "fontStyle": "italic", "fontSize": 7, "align": "right", "baseline": "middle", "dx": 28.7, "dy": -6, "color": "#222"},
                 "encoding": {"x": {"field": "g1", "type": "nominal"}, "y": {"field": "level", "type": "quantitative"}}},
                {"data": {"name": "brk"}, "transform": [{"filter": "datum.panel === 'D' && indexof(['Healthy male (n=5)','Organ-confined PCa (n=11)','Advanced PCa without cachexia (n=15)','Advanced PCa with cachexia (n=8)'], datum.g2) - indexof(['Healthy male (n=5)','Organ-confined PCa (n=11)','Advanced PCa without cachexia (n=15)','Advanced PCa with cachexia (n=8)'], datum.g1) === 2"}],
                 "mark": {"type": "text", "fontSize": 7, "align": "left", "baseline": "middle", "dx": 28.7, "dy": -6, "color": "#222"},
                 "encoding": {"x": {"field": "g1", "type": "nominal"}, "y": {"field": "level", "type": "quantitative"}, "text": {"field": "label"}}},
                {"data": {"name": "brk"}, "transform": [{"filter": "datum.panel === 'D' && indexof(['Healthy male (n=5)','Organ-confined PCa (n=11)','Advanced PCa without cachexia (n=15)','Advanced PCa with cachexia (n=8)'], datum.g2) - indexof(['Healthy male (n=5)','Organ-confined PCa (n=11)','Advanced PCa without cachexia (n=15)','Advanced PCa with cachexia (n=8)'], datum.g1) === 3"}],
                 "mark": {"type": "text", "text": "p", "fontStyle": "italic", "fontSize": 7, "align": "right", "baseline": "middle", "dx": 46.5, "dy": -6, "color": "#222"},
                 "encoding": {"x": {"field": "g1", "type": "nominal"}, "y": {"field": "level", "type": "quantitative"}}},
                {"data": {"name": "brk"}, "transform": [{"filter": "datum.panel === 'D' && indexof(['Healthy male (n=5)','Organ-confined PCa (n=11)','Advanced PCa without cachexia (n=15)','Advanced PCa with cachexia (n=8)'], datum.g2) - indexof(['Healthy male (n=5)','Organ-confined PCa (n=11)','Advanced PCa without cachexia (n=15)','Advanced PCa with cachexia (n=8)'], datum.g1) === 3"}],
                 "mark": {"type": "text", "fontSize": 7, "align": "left", "baseline": "middle", "dx": 46.5, "dy": -6, "color": "#222"},
                 "encoding": {"x": {"field": "g1", "type": "nominal"}, "y": {"field": "level", "type": "quantitative"}, "text": {"field": "label"}}}
              ]
            }
          ]
        }
      ]
    }
  ],
  "spacing": 9
}
